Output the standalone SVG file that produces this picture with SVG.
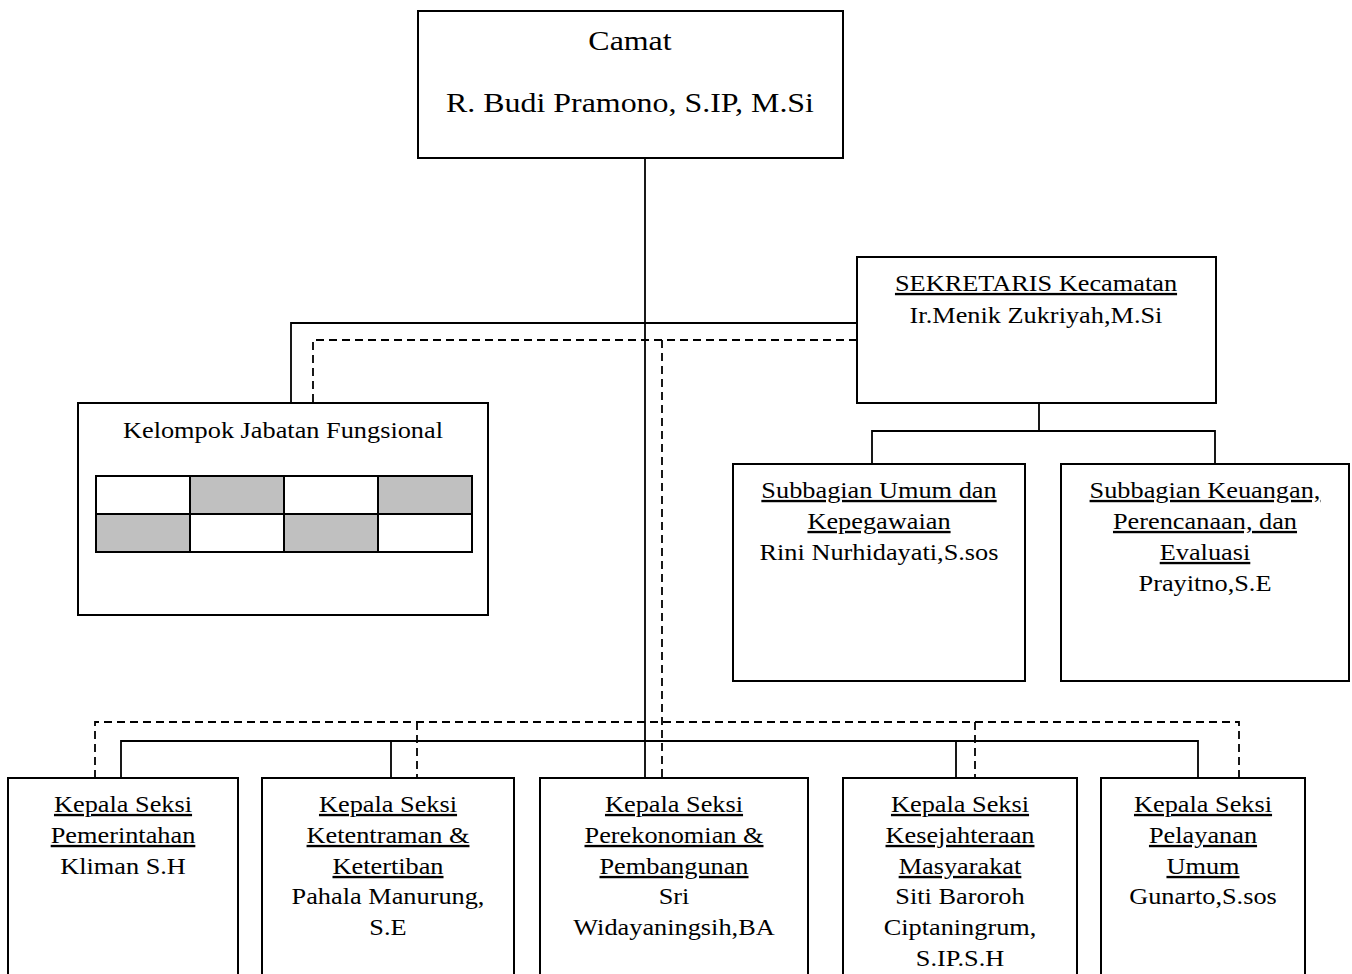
<svg xmlns="http://www.w3.org/2000/svg" width="1352" height="974" viewBox="0 0 1352 974">
<style>
.box{fill:#fff;stroke:#000;stroke-width:2}
.ln{fill:none;stroke:#000;stroke-width:1.8}
.dl{fill:none;stroke:#000;stroke-width:1.8;stroke-dasharray:8 5}
.t{font-family:"Liberation Serif","Times New Roman",serif;font-size:23.5px;text-anchor:middle;fill:#000}
.big{font-size:28px}
.u{text-decoration:underline}
.g{fill:#c0c0c0;stroke:#000;stroke-width:2}
.w{fill:#fff;stroke:#000;stroke-width:2}
</style>
<rect width="1352" height="974" fill="#fff"/>
<g id="connectors">
<path class="ln" d="M645,158 V778"/>
<path class="ln" d="M857,323 H291 V403"/>
<path class="ln" d="M1039,403 V431 M872,464 V431 H1215 V464"/>
<path class="ln" d="M121,778 V741 H1198 V778 M391,741 V778 M956,741 V778"/>
<path class="dl" d="M857,340 H313 V403"/>
<path class="dl" d="M662,340 V778"/>
<path class="dl" d="M95,778 V722 H1239 V778"/>
<path class="dl" d="M417,722 V778 M975,722 V778"/>
</g>
<g id="camat">
<rect class="box" x="418" y="11" width="425" height="147"/>
<g transform="translate(630 0) scale(1.14 1)">
<text class="t big" x="0" y="50">Camat</text>
<text class="t big" x="0" y="112">R. Budi Pramono, S.IP, M.Si</text>
</g>
</g>
<g id="sekretaris">
<rect class="box" x="857" y="257" width="359" height="146"/>
<g transform="translate(1036 0) scale(1.12 1)">
<text class="t u" x="0" y="291">SEKRETARIS Kecamatan</text>
<text class="t" x="0" y="323">Ir.Menik Zukriyah,M.Si</text>
</g>
</g>
<g id="kelompok">
<rect class="box" x="78" y="403" width="410" height="212"/>
<g transform="translate(283 0) scale(1.12 1)">
<text class="t" x="0" y="438">Kelompok Jabatan Fungsional</text>
</g>
<rect class="w" x="96" y="476" width="94" height="38"/>
<rect class="g" x="190" y="476" width="94" height="38"/>
<rect class="w" x="284" y="476" width="94" height="38"/>
<rect class="g" x="378" y="476" width="94" height="38"/>
<rect class="g" x="96" y="514" width="94" height="38"/>
<rect class="w" x="190" y="514" width="94" height="38"/>
<rect class="g" x="284" y="514" width="94" height="38"/>
<rect class="w" x="378" y="514" width="94" height="38"/>
</g>
<g id="subbagian-umum">
<rect class="box" x="733" y="464" width="292" height="217"/>
<g transform="translate(879 0) scale(1.12 1)">
<text class="t u" x="0" y="498">Subbagian Umum dan</text>
<text class="t u" x="0" y="529">Kepegawaian</text>
<text class="t" x="0" y="560">Rini Nurhidayati,S.sos</text>
</g>
</g>
<g id="subbagian-keuangan">
<rect class="box" x="1061" y="464" width="288" height="217"/>
<g transform="translate(1205 0) scale(1.12 1)">
<text class="t u" x="0" y="498">Subbagian Keuangan,</text>
<text class="t u" x="0" y="529">Perencanaan, dan</text>
<text class="t u" x="0" y="560">Evaluasi</text>
<text class="t" x="0" y="591">Prayitno,S.E</text>
</g>
</g>
<g id="seksi-pemerintahan">
<rect class="box" x="8" y="778" width="230" height="220"/>
<g transform="translate(123 0) scale(1.12 1)">
<text class="t u" x="0" y="812">Kepala Seksi</text>
<text class="t u" x="0" y="843">Pemerintahan</text>
<text class="t" x="0" y="874">Kliman S.H</text>
</g>
</g>
<g id="seksi-ketentraman">
<rect class="box" x="262" y="778" width="252" height="220"/>
<g transform="translate(388 0) scale(1.12 1)">
<text class="t u" x="0" y="812">Kepala Seksi</text>
<text class="t u" x="0" y="843">Ketentraman &amp;</text>
<text class="t u" x="0" y="874">Ketertiban</text>
<text class="t" x="0" y="904">Pahala Manurung,</text>
<text class="t" x="0" y="935">S.E</text>
</g>
</g>
<g id="seksi-perekonomian">
<rect class="box" x="540" y="778" width="268" height="220"/>
<g transform="translate(674 0) scale(1.12 1)">
<text class="t u" x="0" y="812">Kepala Seksi</text>
<text class="t u" x="0" y="843">Perekonomian &amp;</text>
<text class="t u" x="0" y="874">Pembangunan</text>
<text class="t" x="0" y="904">Sri</text>
<text class="t" x="0" y="935">Widayaningsih,BA</text>
</g>
</g>
<g id="seksi-kesejahteraan">
<rect class="box" x="843" y="778" width="234" height="220"/>
<g transform="translate(960 0) scale(1.12 1)">
<text class="t u" x="0" y="812">Kepala Seksi</text>
<text class="t u" x="0" y="843">Kesejahteraan</text>
<text class="t u" x="0" y="874">Masyarakat</text>
<text class="t" x="0" y="904">Siti Baroroh</text>
<text class="t" x="0" y="935">Ciptaningrum,</text>
<text class="t" x="0" y="966">S.IP.S.H</text>
</g>
</g>
<g id="seksi-pelayanan">
<rect class="box" x="1101" y="778" width="204" height="220"/>
<g transform="translate(1203 0) scale(1.12 1)">
<text class="t u" x="0" y="812">Kepala Seksi</text>
<text class="t u" x="0" y="843">Pelayanan</text>
<text class="t u" x="0" y="874">Umum</text>
<text class="t" x="0" y="904">Gunarto,S.sos</text>
</g>
</g>
</svg>
